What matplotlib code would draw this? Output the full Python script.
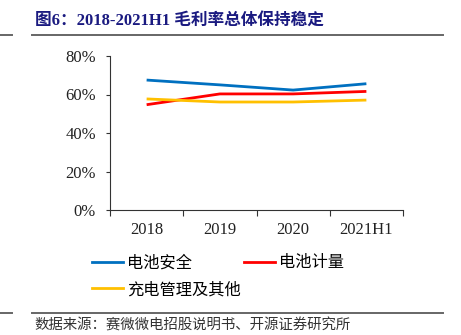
import numpy as np
import matplotlib
matplotlib.use("Agg")
import matplotlib.pyplot as plt
from matplotlib.lines import Line2D

plt.rcParams['font.family'] = ['Noto Sans CJK SC', 'DejaVu Sans']

# gross margin by business line
years = ['2018', '2019', '2020', '2021H1']
battery_safety = [67.5, 65.0, 62.3, 65.6]
battery_metering = [54.7, 60.3, 60.3, 61.6]
charging_other = [57.7, 56.1, 56.1, 57.1]
series_names = ['电池安全', '电池计量', '充电管理及其他']
series_colors = ['#0070C0', '#FF0000', '#FFC000']

yticks = [0, 20, 40, 60, 80]

fig = plt.figure(figsize=(4.61, 3.35), dpi=100)
ax = fig.add_axes([110 / 461, 1 - 210 / 335, 293 / 461, 154 / 335])

x = np.arange(len(years))
for vals, name, col in zip([battery_safety, battery_metering, charging_other],
                           series_names, series_colors):
    ax.plot(x, vals, color=col, lw=2.0, label=name, solid_capstyle='butt')

ax.set_xlim(-0.5, len(years) - 0.5)
ax.set_ylim(0, 80)
ax.set_yticks(yticks)
ax.set_yticklabels([f'{v}%' for v in yticks])
ax.set_xticks(x)
ax.set_xticklabels(years)
ax.set_xticks(np.arange(-0.5, len(years)), minor=True)
ax.tick_params(axis='x', which='major', length=0, pad=9)
ax.tick_params(axis='x', which='minor', length=4, direction='out', color='#333333', width=0.8)
ax.tick_params(axis='y', length=3, direction='out', color='#333333', width=0.8, pad=7)
for lab in ax.get_xticklabels() + ax.get_yticklabels():
    lab.set_fontfamily('Liberation Serif')
    lab.set_fontsize(12)
    lab.set_color('#222222')
for s in ['top', 'right']:
    ax.spines[s].set_visible(False)
for s in ['left', 'bottom']:
    ax.spines[s].set_color('#333333')
    ax.spines[s].set_linewidth(0.8)

# legend fills column by column: first column holds series 0 and 2
order = [0, 2, 1]
handles = [Line2D([], [], color=series_colors[i], lw=2.0) for i in order]
fig.legend(handles, [series_names[i] for i in order], ncol=2, frameon=False,
           loc='upper left', bbox_to_anchor=(81 / 461, 1 - 243 / 335),
           fontsize=11.7, handlelength=1.9, handletextpad=0.25,
           columnspacing=0.2, labelspacing=0.6, borderpad=0.2)

# header and footer rules
for yy in [35, 313]:
    fig.add_artist(Line2D([32 / 461, 443 / 461], [1 - yy / 335] * 2,
                          color='#666666', lw=1.4, transform=fig.transFigure))
    fig.add_artist(Line2D([0, 12 / 461], [1 - yy / 335] * 2,
                          color='#666666', lw=1.4, transform=fig.transFigure))

fig.text(35 / 461, 1 - 21 / 335, '图6：2018-2021H1 毛利率总体保持稳定',
         family=['Liberation Serif', 'Noto Sans CJK SC'], fontweight='bold',
         fontsize=12, color='#1a1a80', va='center', ha='left')
fig.text(34 / 461, 1 - 326 / 335, '数据来源：赛微微电招股说明书、开源证券研究所',
         fontsize=10.4, color='#333333', va='center', ha='left')

fig.savefig('out.png', dpi=100)
